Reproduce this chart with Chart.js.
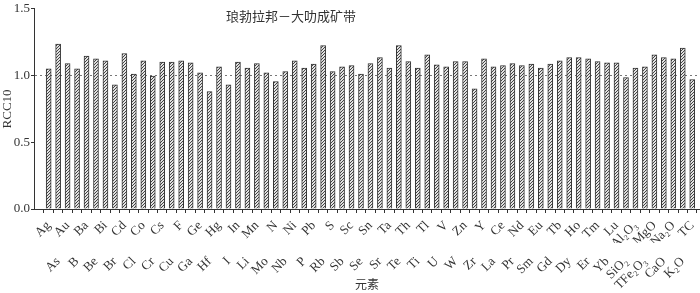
<!DOCTYPE html>
<html>
<head>
<meta charset="utf-8">
<script src="https://cdn.jsdelivr.net/npm/chart.js@4.4.0/dist/chart.umd.min.js"></script>
<style>
    html, body { margin: 0; padding: 0; background: #fff; }
    #wrap { width: 700px; height: 293px; }
</style>
</head>
<body>
<div id="wrap"><canvas id="rccChart"></canvas></div>
<script>
// element names, in plotting order
const elements = ['Ag', 'As', 'Au', 'B', 'Ba', 'Be', 'Bi', 'Br', 'Cd', 'Cl', 'Co', 'Cr', 'Cs', 'Cu', 'F', 'Ga', 'Ge', 'Hf', 'Hg', 'I',
    'In', 'Li', 'Mn', 'Mo', 'N', 'Nb', 'Ni', 'P', 'Pb', 'Rb', 'S', 'Sb', 'Sc', 'Se', 'Sn', 'Sr', 'Ta', 'Te', 'Th', 'Ti',
    'Tl', 'U', 'V', 'W', 'Zn', 'Zr', 'Y', 'La', 'Ce', 'Pr', 'Nd', 'Sm', 'Eu', 'Gd', 'Tb', 'Dy', 'Ho', 'Er', 'Tm', 'Yb',
    'Lu', 'SiO₂', 'Al₂O₃', 'TFe₂O₃', 'MgO', 'CaO', 'Na₂O', 'K₂O', 'TC'];

// RCC10 values
const rccValues = [1.05, 1.235, 1.09, 1.05, 1.145, 1.125, 1.11, 0.93, 1.165, 1.01, 1.11, 0.995, 1.10, 1.10, 1.11, 1.095, 1.02, 0.88, 1.065, 0.93,
    1.10, 1.055, 1.09, 1.02, 0.955, 1.03, 1.11, 1.055, 1.085, 1.225, 1.03, 1.065, 1.075, 1.01, 1.09, 1.135, 1.055, 1.225, 1.105, 1.055,
    1.155, 1.08, 1.065, 1.105, 1.105, 0.90, 1.125, 1.065, 1.075, 1.09, 1.075, 1.085, 1.055, 1.085, 1.11, 1.135, 1.135, 1.125, 1.105, 1.095,
    1.095, 0.985, 1.055, 1.065, 1.155, 1.135, 1.125, 1.205, 0.97];

const yTicks = [0, 0.5, 1.0, 1.5];
const chartTitle = '琅勃拉邦－大叻成矿带';

const serif = "'Liberation Serif', 'Noto Sans CJK SC', serif";
const cjk = "'Noto Sans CJK SC', 'Liberation Serif', sans-serif";

// diagonal hatch fill for the bars
function makeHatch() {
    const c = document.createElement('canvas');
    c.width = 3;
    c.height = 3;
    const g = c.getContext('2d');
    g.fillStyle = '#e2e2e2';
    g.fillRect(0, 0, 3, 3);
    g.fillStyle = '#444';
    g.fillRect(0, 2, 1, 1);
    g.fillRect(1, 1, 1, 1);
    g.fillRect(2, 0, 1, 1);
    return g.createPattern(c, 'repeat');
}

const innerTitle = {
    id: 'innerTitle',
    afterDraw(chart) {
        const c = chart.ctx;
        c.save();
        c.font = '13px ' + cjk;
        c.fillStyle = '#333';
        c.textAlign = 'center';
        c.textBaseline = 'middle';
        c.fillText(chartTitle, 291, 16);
        c.restore();
    }
};

const xMin = -1.04;
const xMax = 68.31;
const allTicks = axis => { axis.ticks = elements.map((e, i) => ({ value: i })); };

document.addEventListener('DOMContentLoaded', function() {
    const ctx = document.getElementById('rccChart').getContext('2d');
    new Chart(ctx, {
        type: 'bar',
        data: {
            datasets: [{
                data: rccValues.map((v, i) => ({ x: i, y: v })),
                backgroundColor: makeHatch(),
                borderColor: '#333',
                borderWidth: 1,
                barThickness: 5
            }]
        },
        options: {
            responsive: true,
            maintainAspectRatio: false,
            animation: false,
            layout: { padding: { top: 5, right: 0, left: 0, bottom: 0 } },
            plugins: {
                legend: { display: false },
                tooltip: { enabled: false }
            },
            scales: {
                x: {
                    type: 'linear',
                    position: 'bottom',
                    min: xMin,
                    max: xMax,
                    afterBuildTicks: allTicks,
                    afterFit: s => { s.height = 34; s.paddingLeft = 0; s.paddingRight = 0; },
                    grid: { drawOnChartArea: false, drawTicks: true, tickLength: 4, color: '#333' },
                    border: { color: '#333', width: 1 },
                    ticks: {
                        autoSkip: false,
                        minRotation: 45,
                        maxRotation: 45,
                        padding: 5,
                        color: '#333',
                        font: { family: serif, size: 13 },
                        callback: v => (v % 2 === 0 ? elements[v] : '')
                    }
                },
                x2: {
                    type: 'linear',
                    position: 'bottom',
                    min: xMin,
                    max: xMax,
                    afterBuildTicks: allTicks,
                    afterFit: s => { s.height = 50; s.paddingLeft = 0; s.paddingRight = 0; },
                    grid: { display: false },
                    border: { display: false },
                    ticks: {
                        autoSkip: false,
                        minRotation: 45,
                        maxRotation: 45,
                        padding: 3,
                        color: '#333',
                        font: { family: serif, size: 13 },
                        callback: v => (v % 2 === 1 ? elements[v] : '')
                    },
                    title: {
                        display: true,
                        text: '元素',
                        color: '#333',
                        font: { family: cjk, size: 12 },
                        padding: { top: 0, bottom: 1 }
                    }
                },
                y: {
                    min: 0,
                    max: 1.5,
                    afterBuildTicks: axis => { axis.ticks = yTicks.map(v => ({ value: v })); },
                    afterFit: s => { s.width = 34; },
                    grid: {
                        color: c => (c.tick && c.tick.value === 1 ? '#777' : 'transparent'),
                        tickColor: '#333',
                        tickLength: 3
                    },
                    border: { color: '#333', width: 1, dash: [2, 3] },
                    ticks: {
                        color: '#333',
                        padding: 1,
                        font: { family: serif, size: 13 },
                        callback: v => v.toFixed(1)
                    },
                    title: {
                        display: true,
                        text: 'RCC10',
                        color: '#333',
                        font: { family: serif, size: 13 },
                        padding: { top: 0, bottom: 0 }
                    }
                }
            }
        },
        plugins: [innerTitle]
    });
});
</script>
</body>
</html>
